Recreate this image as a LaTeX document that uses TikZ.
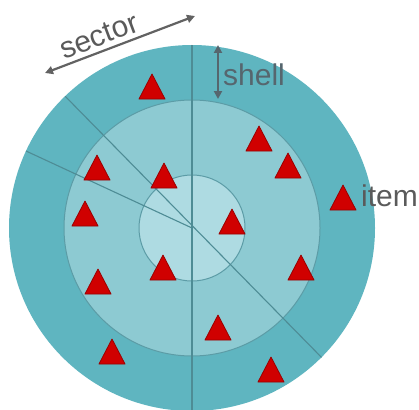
\documentclass[tikz,border=0pt]{standalone}
\usepackage{fontspec}
\setmainfont{Liberation Sans}
\usetikzlibrary{arrows.meta,calc}
\definecolor{ringout}{HTML}{5FB5C0}
\definecolor{ringmid}{HTML}{8DCAD2}
\definecolor{ringin}{HTML}{AEDBE2}
\definecolor{divline}{HTML}{4E8C95}
\definecolor{ringedge}{HTML}{5C9CA6}
\definecolor{itemred}{HTML}{D00000}
\definecolor{itemedge}{HTML}{9A0000}
\definecolor{arrowgray}{HTML}{626262}
\definecolor{textgray}{HTML}{5A5A5A}
\definecolor{shellgray}{HTML}{56666E}
\tikzset{
  x=1pt, y=-1pt,
  tri/.pic={\filldraw[fill=itemred, draw=itemedge, line width=0.8pt, line join=round]
     (0,0) -- (13,25) -- (-13,25) -- cycle;},
  divider/.style={draw=divline, line width=1.1pt},
  ringline/.style={draw=ringedge, line width=1pt},
  dimarrow/.style={draw=arrowgray, line width=2.2pt, {Triangle[length=8pt,width=8pt]}-{Triangle[length=8pt,width=8pt]}},
  lbl/.style={font=\fontsize{30}{32}\selectfont, inner sep=0pt}
}
\begin{document}
\begin{tikzpicture}
\useasboundingbox (0,0) rectangle (419,409);
\clip (0,0) rectangle (419,409);
\coordinate (c) at (192,228);
% rings
\fill[ringout] (c) circle[radius=183pt];
\filldraw[fill=ringmid, ringline] (c) circle[radius=128pt];
\filldraw[fill=ringin, ringline] (c) circle[radius=53pt];
% sector dividers
\begin{scope}
  \clip (c) circle[radius=183pt];
  \coordinate (top) at (192,40);
  \coordinate (bot) at (192,415);
  \coordinate (d1) at ($(c)+(-131,-136)$);
  \coordinate (d2) at ($(c)+(136,136)$);
  \coordinate (d3) at ($(c)+(-166,-77)$);
  \draw[divider] (top) -- (bot);
  \draw[divider] (d1) -- (d2);
  \draw[divider] (d3) -- (c);
\end{scope}
% items
\foreach \px/\py in {152/74, 259/126, 288/153, 97/155, 164/163, 85/201,
                     232/209, 98/269, 163/255, 301/255, 112/339, 218/315,
                     271/357, 343/185} {
  \pic at (\px,\py) {tri};
}
% sector arrow
\coordinate (sa) at (45,73);
\coordinate (sb) at (195,16);
\draw[dimarrow] (sa) -- (sb);
\node[lbl, text=textgray, rotate=20.6] (sector) at (99,36) {sector};
% shell arrow
\coordinate (ha) at (218,45);
\coordinate (hb) at (218,99);
\draw[dimarrow, draw=shellgray, line width=2pt] (ha) -- (hb);
\node[lbl, text=shellgray, anchor=base west] (shell) at (223,85) {shell};
% item label
\node[lbl, text=textgray, anchor=base west] (item) at (361,206) {item};
\end{tikzpicture}
\end{document}
